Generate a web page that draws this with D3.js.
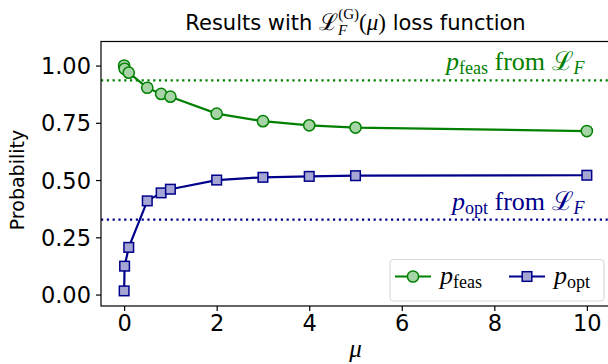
<!DOCTYPE html>
<html>
<head>
<meta charset="utf-8">
<script src="https://cdn.jsdelivr.net/npm/d3@7"></script>
<style>
  body { margin: 0; background: #fff; }
  text { font-family: 'DejaVu Sans', sans-serif; }
  .math { font-family: 'Liberation Serif', 'DejaVu Serif', serif; }
</style>
</head>
<body>
<script>
    // values
    var mu = [0, 0.01, 0.1, 0.5, 0.8, 1, 2, 3, 4, 5, 10];
    var pFeas = [1.0, 0.986, 0.969, 0.903, 0.876, 0.864, 0.79, 0.757, 0.739, 0.729, 0.714];
    var pOpt = [0.016, 0.124, 0.206, 0.409, 0.444, 0.46, 0.5, 0.512, 0.516, 0.519, 0.521];
    var refFeas = 0.935, refOpt = 0.327;
    var xTicks = [0, 2, 4, 6, 8, 10];
    var yTicks = [0, 0.25, 0.5, 0.75, 1.0];

    var W = 608, H = 364;
    var plot = {left: 101, right: 610, top: 41.5, bottom: 306};

    var svg = d3.select('body').append('svg')
        .attr('width', W).attr('height', H);

    var x = d3.scaleLinear().domain([-0.5, 10.5]).range([plot.left, plot.right]);
    var y = d3.scaleLinear().domain([-0.05, 1.105]).range([plot.bottom, plot.top]);

    var green = '#008000', greenFill = '#a6d4a6';
    var blue = '#00008b', blueFill = '#a6a6d4';

    // reference dotted lines
    [[refFeas, green], [refOpt, blue]].forEach(function(r) {
        svg.append('line')
            .attr('x1', plot.left).attr('x2', W)
            .attr('y1', y(r[0])).attr('y2', y(r[0]))
            .attr('stroke', r[1]).attr('stroke-width', 2.2)
            .attr('stroke-dasharray', '2.2,3.6');
    });

    var feas = mu.map((m, i) => ({x: m, y: pFeas[i]}));
    var opt = mu.map((m, i) => ({x: m, y: pOpt[i]}));
    var line = d3.line().x(d => x(d.x)).y(d => y(d.y));

    svg.append('path').datum(feas).attr('d', line)
        .attr('fill', 'none').attr('stroke', green).attr('stroke-width', 2.2);
    svg.append('path').datum(opt).attr('d', line)
        .attr('fill', 'none').attr('stroke', blue).attr('stroke-width', 2.2);

    svg.selectAll('circle.feas').data(feas).enter().append('circle')
        .attr('class', 'feas')
        .attr('cx', d => x(d.x)).attr('cy', d => y(d.y)).attr('r', 5.6)
        .attr('fill', greenFill).attr('stroke', green).attr('stroke-width', 1.5);
    svg.selectAll('rect.opt').data(opt).enter().append('rect')
        .attr('class', 'opt')
        .attr('x', d => x(d.x) - 4.8).attr('y', d => y(d.y) - 4.8)
        .attr('width', 9.6).attr('height', 9.6)
        .attr('fill', blueFill).attr('stroke', blue).attr('stroke-width', 1.5);

    // spines
    svg.append('rect')
        .attr('x', plot.left).attr('y', plot.top)
        .attr('width', plot.right - plot.left).attr('height', plot.bottom - plot.top)
        .attr('fill', 'none').attr('stroke', '#000').attr('stroke-width', 1.2);

    // axes
    var xAxis = svg.append('g').attr('transform', 'translate(0,' + plot.bottom + ')')
        .call(d3.axisBottom(x).tickValues(xTicks).tickSize(5).tickPadding(4).tickFormat(d3.format('d')));
    var yAxis = svg.append('g').attr('transform', 'translate(' + plot.left + ',0)')
        .call(d3.axisLeft(y).tickValues(yTicks).tickSize(5).tickPadding(5).tickFormat(d3.format('.2f')));
    [xAxis, yAxis].forEach(function(g) {
        g.select('.domain').remove();
        g.selectAll('line').attr('stroke', '#000').attr('stroke-width', 1.2);
        g.selectAll('text').attr('fill', '#000')
            .style('font-family', 'DejaVu Sans').style('font-size', '22.5px');
    });
    yAxis.selectAll('text').attr('dy', '0.36em');

    // axis labels
    svg.append('text').attr('class', 'math')
        .attr('x', (plot.left + plot.right) / 2).attr('y', 357)
        .attr('text-anchor', 'middle').style('font-size', '25px').style('font-style', 'italic')
        .text('μ');
    svg.append('text')
        .attr('transform', 'translate(24,' + y(0.5) + ') rotate(-90)')
        .attr('text-anchor', 'middle').style('font-size', '19px')
        .text('Probability');

    // title
    var t = svg.append('text')
        .attr('x', (plot.left + plot.right) / 2).attr('y', 29.5)
        .attr('text-anchor', 'middle').style('font-size', '21px');
    t.append('tspan').text('Results with ');
    t.append('tspan').attr('class', 'math').style('font-size', '23px').text('ℒ');
    t.append('tspan').attr('class', 'math').style('font-size', '15px').style('font-style', 'italic')
        .attr('dy', 5).text('F');
    t.append('tspan').attr('class', 'math').style('font-size', '15px')
        .attr('dx', -9).attr('dy', -16).text('(G)');
    t.append('tspan').attr('class', 'math').style('font-size', '23px')
        .attr('dy', 11).text('(');
    t.append('tspan').attr('class', 'math').style('font-size', '23px').style('font-style', 'italic').text('μ');
    t.append('tspan').attr('class', 'math').style('font-size', '23px').text(')');
    t.append('tspan').text(' loss function');

    // annotations
    function annot(val, sub, color) {
        var a = svg.append('text').attr('class', 'math')
            .attr('x', x(9.95)).attr('y', y(val) - 10)
            .attr('text-anchor', 'end').attr('fill', color).style('font-size', '26px');
        a.append('tspan').style('font-style', 'italic').text('p');
        a.append('tspan').style('font-size', '18px').attr('dy', 4).text(sub);
        a.append('tspan').attr('dy', -4).text(' from ');
        a.append('tspan').text('ℒ');
        a.append('tspan').style('font-size', '18px').style('font-style', 'italic').attr('dy', 4).text('F');
    }
    annot(refFeas, 'feas', green);
    annot(refOpt, 'opt', blue);

    // legend
    var lg = svg.append('g');
    lg.append('rect')
        .attr('x', 390).attr('y', 259.5).attr('width', 214).attr('height', 41.5)
        .attr('rx', 4).attr('fill', '#fff').attr('fill-opacity', 0.8)
        .attr('stroke', '#d9d9d9').attr('stroke-width', 1.2);
    var entries = [
        {sub: 'feas', color: green, fill: greenFill, shape: 'circle', x0: 395},
        {sub: 'opt', color: blue, fill: blueFill, shape: 'square', x0: 509}
    ];
    entries.forEach(function(e) {
        var cy = 276.5;
        lg.append('line').attr('x1', e.x0).attr('x2', e.x0 + 36)
            .attr('y1', cy).attr('y2', cy)
            .attr('stroke', e.color).attr('stroke-width', 2.2);
        if (e.shape === 'circle') {
            lg.append('circle').attr('cx', e.x0 + 18).attr('cy', cy).attr('r', 5.6)
                .attr('fill', e.fill).attr('stroke', e.color).attr('stroke-width', 1.5);
        } else {
            lg.append('rect').attr('x', e.x0 + 18 - 4.8).attr('y', cy - 4.8)
                .attr('width', 9.6).attr('height', 9.6)
                .attr('fill', e.fill).attr('stroke', e.color).attr('stroke-width', 1.5);
        }
        var tx = lg.append('text').attr('class', 'math')
            .attr('x', e.x0 + 45).attr('y', cy + 7).style('font-size', '26px');
        tx.append('tspan').style('font-style', 'italic').text('p');
        tx.append('tspan').style('font-size', '18px').attr('dy', 4).text(e.sub);
    });
</script>
</body>
</html>
